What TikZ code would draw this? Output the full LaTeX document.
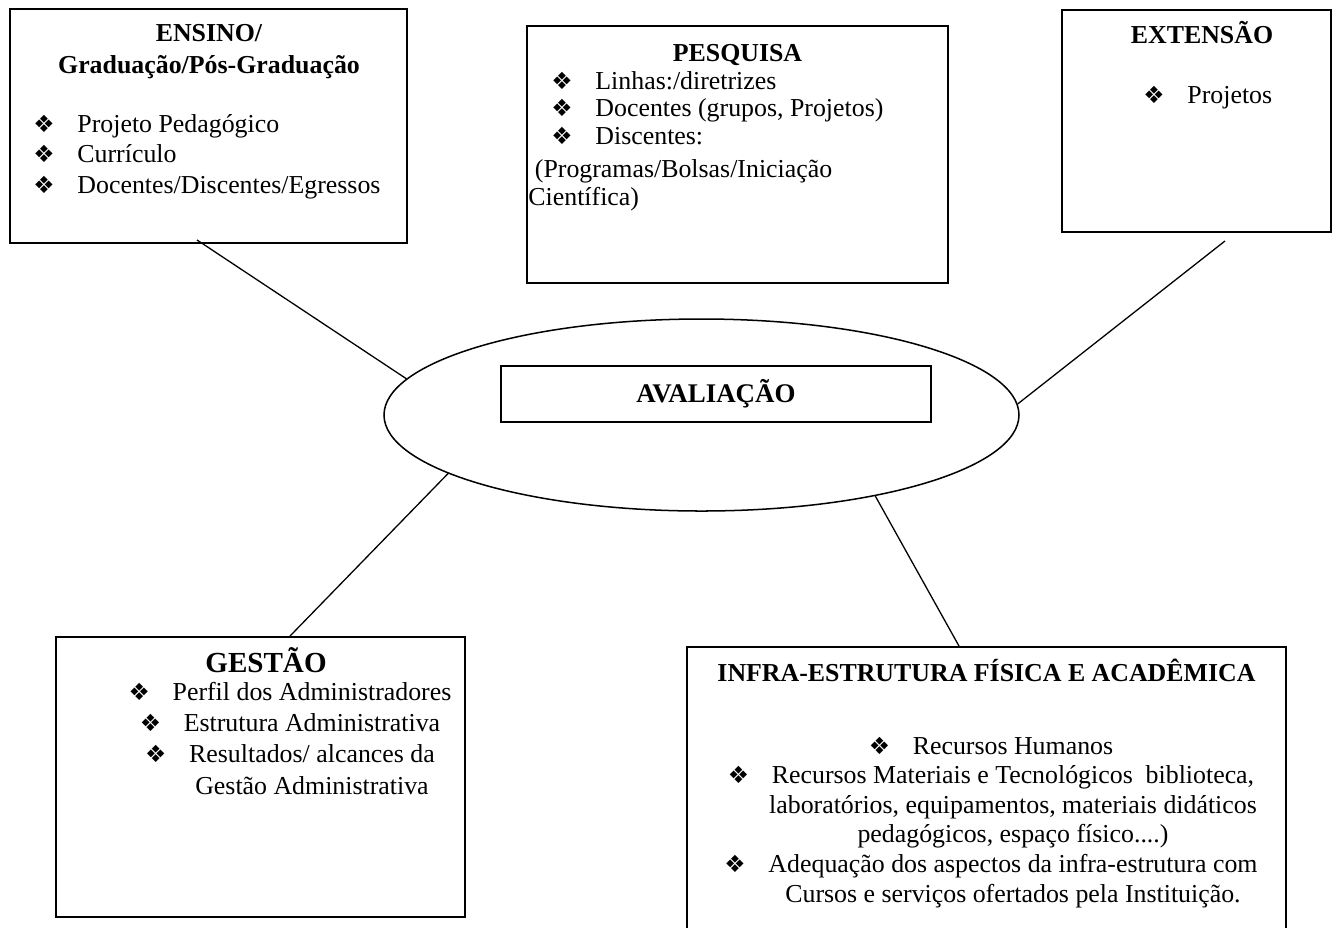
\documentclass[tikz,border=0pt]{standalone}
\usepackage{fontspec}
\setmainfont{Liberation Serif}
\newfontfamily\symfont{DejaVu Sans}
\usepackage{tikz}
\usetikzlibrary{positioning,shapes.geometric}

\newlength\pxu
\setlength\pxu{0.464pt}
\newcommand\bul{{\symfont\fontsize{11}{11}\selectfont ❖}}
\newcommand\itm[1][44]{\llap{\makebox[#1\pxu][l]{\bul}}}

\begin{document}
\begin{tikzpicture}[
    x=\pxu, y=-\pxu,
    panel/.style={draw, line width=0.9pt, inner sep=0pt},
    title/.style={align=center, inner sep=0pt, font={\bfseries\fontsize{12}{14.4}\selectfont}},
    items/.style={inner sep=0pt, font={\fontsize{12}{14.1}\selectfont}},
    link/.style={line width=0.6pt}
]
\useasboundingbox (0,0) rectangle (1333,927);
\clip (0,0) rectangle (1333,927);

% boxes
\node[panel, minimum width=397\pxu, minimum height=234\pxu] (ensino) at (208.5,126) {};
\node[panel, minimum width=421\pxu, minimum height=257\pxu] (pesquisa) at (737.5,154.5) {};
\node[panel, minimum width=269\pxu, minimum height=222\pxu] (ext) at (1196.5,121) {};
\node[panel, minimum width=409\pxu, minimum height=280\pxu] (gestao) at (260.5,777) {};
\node[panel, minimum width=599\pxu, minimum height=313\pxu] (infra) at (986.5,803.5) {};
\node[draw, ellipse, line width=0.7pt, inner sep=0pt, minimum width=635\pxu, minimum height=192\pxu] (aval) at (701.5,415) {};
\node[panel, minimum width=430\pxu, minimum height=56\pxu, font={\bfseries\fontsize{12.5}{14}\selectfont}] (avalbox) at (716,394) {AVALIAÇÃO};

% ensino (multi-line nodes sit on their last baseline)
\node[title, anchor=base] (enstit) at (209,73) {ENSINO/\\Graduação/Pós-Graduação};
\node[items, align=left, anchor=base west] (enslist) at (77,193)
  {\itm Projeto Pedagógico\\\itm Currículo\\\itm Docentes/Discentes/Egressos};

% pesquisa
\node[title, anchor=base] (pesqtit) at (737.5,61) {PESQUISA};
\node[items, align=left, anchor=base west, font={\fontsize{12}{12.75}\selectfont}] (pesqlist) at (595,144)
  {\itm Linhas:/diretrizes\\\itm Docentes (grupos, Projetos)\\\itm Discentes:};
\node[items, align=left, anchor=base west, font={\fontsize{12}{12.75}\selectfont}] (pesqnote) at (528,205)
  {\ (Programas/Bolsas/Iniciação\\Científica)};

% extensao
\node[title, anchor=base] (exttit) at (1202,43) {EXTENSÃO};
\node[items, align=left, anchor=base west] (extlist) at (1187,103) {\itm Projetos};

% gestao
\node[title, anchor=base, font={\bfseries\fontsize{13.5}{16}\selectfont}] (gesttit) at (266,672) {GESTÃO};
\node[items, align=center, anchor=base, font={\fontsize{12}{14.4}\selectfont}] (gestlist) at (312,794)
  {\itm Perfil dos Administradores\\\itm Estrutura Administrativa\\\itm Resultados/ alcances da\\Gestão Administrativa};

% infra
\node[title, anchor=base] (infratit) at (986.5,681) {INFRA-ESTRUTURA FÍSICA E ACADÊMICA};
\node[items, align=center, anchor=base, font={\fontsize{12}{13.7}\selectfont}] (infralist) at (1013,902)
  {\itm Recursos Humanos\\
   \itm Recursos Materiais e Tecnológicos\ \ biblioteca,\\
   laboratórios, equipamentos, materiais didáticos\\
   pedagógicos, espaço físico....)\\
   \itm Adequação dos aspectos da infra-estrutura com\\
   Cursos e serviços ofertados pela Instituição.};

% connectors
\draw[link] ([xshift=-11.5\pxu,yshift=4\pxu]ensino.south) -- (aval.173);
\draw[link] ([xshift=28.5\pxu,yshift=-8\pxu]ext.south) -- (aval.2);
\draw[link] ([xshift=29.5\pxu]gestao.north) -- (aval.193);
\draw[link] ([xshift=-27.5\pxu]infra.north) -- (aval.335);
\end{tikzpicture}
\end{document}
